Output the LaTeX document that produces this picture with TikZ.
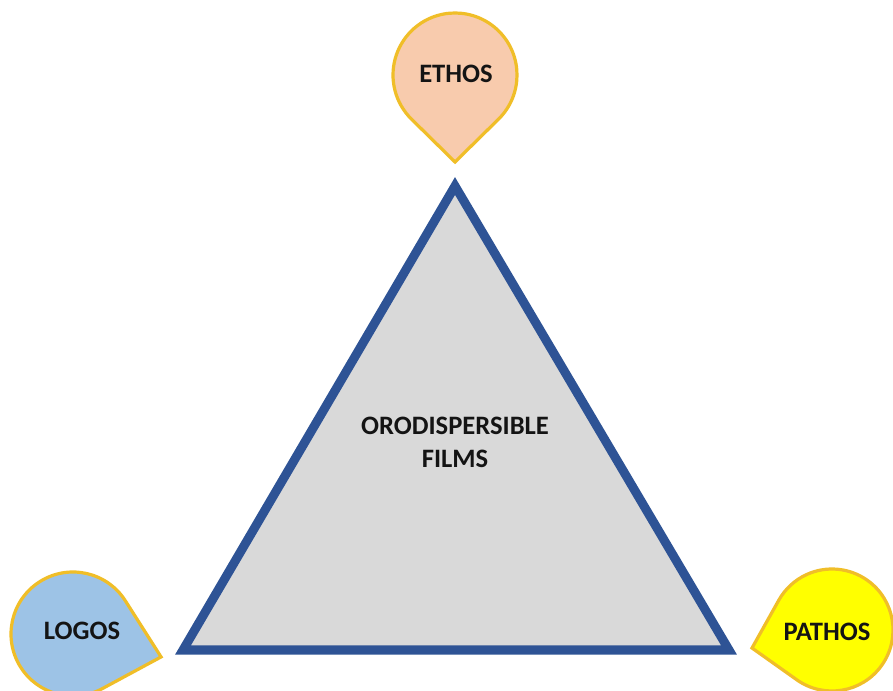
\documentclass[tikz,border=0pt]{standalone}
\usepackage{fontspec}
\setmainfont{Carlito}
\usetikzlibrary{calc}
\definecolor{triblue}{HTML}{2E5395}
\definecolor{trigray}{HTML}{D9D9D9}
\definecolor{gold}{HTML}{F0BE28}
\definecolor{peach}{HTML}{F8CBAD}
\definecolor{skyblue}{HTML}{9DC3E6}
\definecolor{brightyellow}{HTML}{FFFF00}
\newcommand\tdrop[6]{%
  \pgfmathsetmacro\tdA{acos(#4/#6)}%
  \pgfmathsetmacro\tdS{#5+\tdA}%
  \pgfmathsetmacro\tdE{#5+360-\tdA}%
  \draw[drop,fill=#1] ($(#2,#3)+(#5:#6)$) -- ($(#2,#3)+(\tdS:#4)$)
    arc[start angle=\tdS, end angle=\tdE, radius=#4] -- cycle;}
\begin{document}
\begin{tikzpicture}[x=1pt,y=1pt,
  drop/.style={draw=gold,line width=3.2pt,line join=miter},
  tri/.style={draw=triblue,fill=trigray,line width=9pt,line join=miter},
  lbl/.style={font=\bfseries\fontsize{26.6}{33}\selectfont,text=black!92,align=center,inner sep=0pt}]
\useasboundingbox (0,0) rectangle (893,690);
\clip (0,0) rectangle (893,690);
\fill[white] (0,0) rectangle (893,690);
% triangle
\coordinate (apex) at (455,504);
\coordinate (bl) at (183,40);
\coordinate (br) at (729,40);
\draw[tri] (apex) -- (bl) -- (br) -- cycle;
% teardrops
\tdrop{peach}{455}{615}{62}{-90}{87}
\tdrop{skyblue}{73}{56}{62}{-14.6}{91}
\tdrop{brightyellow}{832}{60}{61}{192.7}{82}
% labels
\node[lbl] (ethos) at (456,616) {ETHOS};
\node[lbl] (logos) at (82,59) {LOGOS};
\node[lbl] (pathos) at (827,58.5) {PATHOS};
\node[lbl] (odf) at (455,248) {ORODISPERSIBLE\\FILMS};
\end{tikzpicture}
\end{document}
